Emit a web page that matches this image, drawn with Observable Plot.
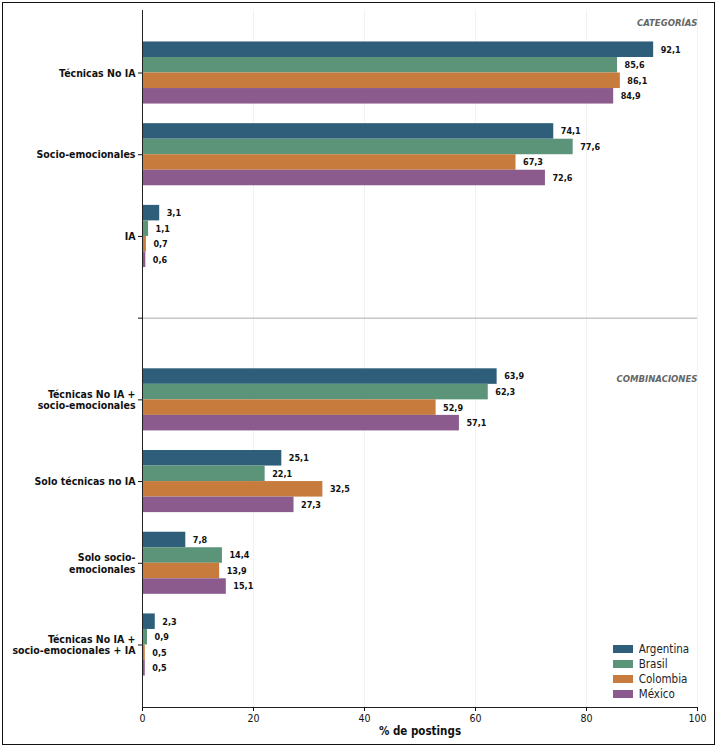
<!DOCTYPE html>
<html>
<head>
<meta charset="utf-8">
<script src="https://cdn.jsdelivr.net/npm/d3@7"></script>
<script src="https://cdn.jsdelivr.net/npm/@observablehq/plot@0.6"></script>
<style>
  html, body { margin: 0; padding: 0; background: #fff; }
  #wrap { position: relative; width: 717px; height: 747px; overflow: hidden; }
  #border { position: absolute; left: 2px; top: 2px; width: 713px; height: 743px; box-sizing: border-box; border: 1.6px solid #111; pointer-events: none; }
  #legend { position: absolute; left: 613px; top: 641px; }
</style>
</head>
<body>
<div id="wrap"><div id="chart"></div><div id="legend"></div><div id="border"></div></div>
<script>
const categories = [
  "Técnicas No IA",
  "Socio-emocionales",
  "IA",
  "",
  "Técnicas No IA +\nsocio-emocionales",
  "Solo técnicas no IA",
  "Solo socio-\nemocionales",
  "Técnicas No IA +\nsocio-emocionales + IA"
];
const countries = ["Argentina", "Brasil", "Colombia", "México"];
const colors = ["#2E5E7A", "#5B9478", "#C77C3D", "#8B5B8E"];
const argentina = [92.1, 74.1, 3.1, null, 63.9, 25.1, 7.8, 2.3];
const brasil    = [85.6, 77.6, 1.1, null, 62.3, 22.1, 14.4, 0.9];
const colombia  = [86.1, 67.3, 0.7, null, 52.9, 32.5, 13.9, 0.5];
const mexico    = [84.9, 72.6, 0.6, null, 57.1, 27.3, 15.1, 0.5];
const xTicks = [0, 20, 40, 60, 80, 100];
const sections = [
  {label: "CATEGORÍAS", y: -0.61},
  {label: "COMBINACIONES", y: 3.74}
];
const separatorIndex = 3;

const series = [argentina, brasil, colombia, mexico];
const groupHalf = 0.38;
const barH = (2 * groupHalf) / countries.length;
const rows = [];
categories.forEach((cat, i) => {
  series.forEach((vals, k) => {
    if (vals[i] == null) return;
    const y1 = i - groupHalf + k * barH;
    rows.push({cat, country: countries[k], value: vals[i], y1, y2: y1 + barH, yc: y1 + barH / 2});
  });
});
const pad = 0.765;
const yMin = -pad, yMax = categories.length - 1 + pad;
const fmt = v => v.toFixed(1).replace(".", ",");
const FONT = "'DejaVu Sans Condensed', 'DejaVu Sans', sans-serif";

const chart = Plot.plot({
  width: 717,
  height: 747,
  marginLeft: 142,
  marginRight: 20,
  marginTop: 10,
  marginBottom: 40,
  style: {fontFamily: FONT, background: "#fff", color: "#111", fontStretch: "condensed"},
  x: {domain: [0, 100]},
  y: {domain: [yMin, yMax], reverse: true},
  color: {domain: countries, range: colors},
  marks: [
    Plot.gridX(xTicks, {stroke: "#000", strokeOpacity: 0.05}),
    Plot.ruleY([separatorIndex], {stroke: "#aaa", strokeWidth: 1}),
    Plot.rectX(rows, {x: "value", y1: "y1", y2: "y2", fill: "country"}),
    Plot.text(rows, {x: "value", y: "yc", text: d => fmt(d.value), textAnchor: "start", dx: 7, fontWeight: "bold", fontSize: 9, fill: "#111"}),
    Plot.text(sections, {x: 100, y: "y", text: "label", textAnchor: "end", fontStyle: "italic", fontWeight: "bold", fontSize: 9.5, fill: "#666"}),
    Plot.ruleX([0], {stroke: "#222", strokeWidth: 1}),
    Plot.ruleY([yMax], {stroke: "#222", strokeWidth: 1}),
    Plot.axisY(d3.range(categories.length), {tickFormat: i => categories[i], tickSize: 4, tickPadding: 3, fontWeight: "bold", fontSize: 10.5, label: null, lineHeight: 1.1}),
    Plot.axisX(xTicks, {tickSize: 4, tickPadding: 3, fontSize: 10.5, label: null}),
    Plot.text(["% de postings"], {frameAnchor: "bottom", dy: 27, fontWeight: "bold", fontSize: 11.5, fill: "#111"})
  ]
});
document.getElementById("chart").appendChild(chart);

const leg = Plot.legend({
  color: {domain: countries, range: colors},
  legend: "swatches",
  columns: 1,
  swatchWidth: 20,
  swatchHeight: 8,
  style: {fontFamily: FONT, fontSize: "11.5px", color: "#222", fontStretch: "condensed"}
});
leg.querySelectorAll("div").forEach(el => {
  if (el.firstElementChild && el.firstElementChild.tagName.toLowerCase() === "svg") {
    el.style.height = "15px";
    el.style.paddingBottom = "0";
    el.style.display = "flex";
    el.style.alignItems = "center";
  }
});
document.getElementById("legend").appendChild(leg);
</script>
</body>
</html>
